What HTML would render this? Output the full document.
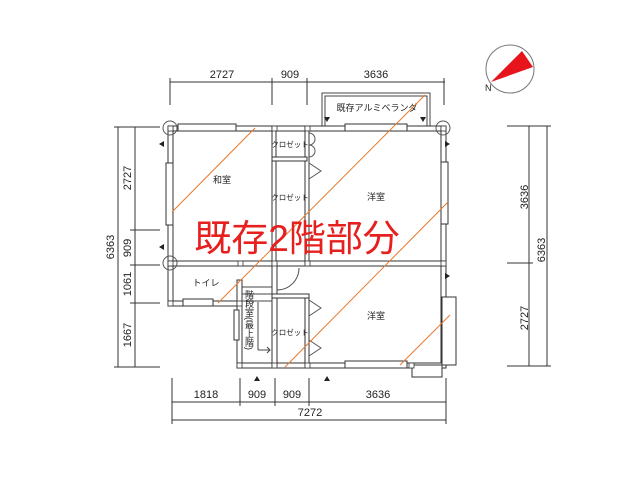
<!DOCTYPE html>
<html><head><meta charset="utf-8"><style>
html,body{margin:0;padding:0;background:#fff;}
svg{display:block;}
text{font-family:"Liberation Sans","Noto Sans CJK JP",sans-serif;fill:#222;}
</style></head><body>
<svg width="640" height="480" viewBox="0 0 640 480" xmlns="http://www.w3.org/2000/svg">
<rect width="640" height="480" fill="#fff"/>
<g stroke="#333" stroke-width="1" fill="none">
 <line x1="170" y1="82" x2="445" y2="82"/>
 <line x1="170" y1="78" x2="170" y2="105"/>
 <line x1="272" y1="78" x2="272" y2="105"/>
 <line x1="307" y1="78" x2="307" y2="105"/>
 <line x1="444" y1="78" x2="444" y2="105"/>
 <line x1="118" y1="127" x2="118" y2="367"/>
 <line x1="135" y1="127" x2="135" y2="367"/>
 <line x1="114" y1="127" x2="160" y2="127"/>
 <line x1="130" y1="230" x2="160" y2="230"/>
 <line x1="130" y1="265" x2="160" y2="265"/>
 <line x1="130" y1="303" x2="160" y2="303"/>
 <line x1="114" y1="367" x2="160" y2="367"/>
 <line x1="172" y1="402" x2="446" y2="402"/>
 <line x1="172" y1="420" x2="446" y2="420"/>
 <line x1="172" y1="378" x2="172" y2="424"/>
 <line x1="240" y1="378" x2="240" y2="406"/>
 <line x1="275" y1="378" x2="275" y2="406"/>
 <line x1="309" y1="378" x2="309" y2="406"/>
 <line x1="446" y1="378" x2="446" y2="424"/>
 <line x1="529" y1="126" x2="529" y2="366"/>
 <line x1="547" y1="126" x2="547" y2="366"/>
 <line x1="507" y1="126" x2="551" y2="126"/>
 <line x1="507" y1="263" x2="533" y2="263"/>
 <line x1="507" y1="366" x2="551" y2="366"/>
</g>
<g font-size="11" text-anchor="middle">
 <text x="222" y="78">2727</text><text x="290" y="78">909</text><text x="376" y="78">3636</text>
 <text x="206" y="398">1818</text><text x="257" y="398">909</text><text x="292" y="398">909</text><text x="378" y="398">3636</text>
 <text x="310" y="416">7272</text>
 <text transform="translate(131,178) rotate(-90)">2727</text>
 <text transform="translate(131,248) rotate(-90)">909</text>
 <text transform="translate(131,284) rotate(-90)">1061</text>
 <text transform="translate(131,335) rotate(-90)">1667</text>
 <text transform="translate(114,247) rotate(-90)">6363</text>
 <text transform="translate(528,197) rotate(-90)">3636</text>
 <text transform="translate(545,250) rotate(-90)">6363</text>
 <text transform="translate(528,318) rotate(-90)">2727</text>
</g>
<rect x="322" y="93" width="108" height="35" fill="none" stroke="#444" stroke-width="1"/>
<rect x="325" y="96" width="102" height="32" fill="none" stroke="#444" stroke-width="1"/>
<text x="377" y="111" font-size="9" text-anchor="middle">既存アルミベランダ</text>
<g fill="#fff" stroke="#333" stroke-width="1">
 <rect x="168" y="126" width="278" height="5"/>
 <rect x="168" y="126" width="5" height="180"/>
 <rect x="441" y="126" width="5" height="241"/>
 <rect x="168" y="261" width="278" height="5"/>
 <rect x="168" y="301" width="72" height="5"/>
 <rect x="237" y="280" width="5" height="87"/>
 <rect x="237" y="363" width="209" height="5"/>
 <rect x="272" y="263" width="5" height="103"/>
 <rect x="272" y="126" width="4" height="138"/>
 <rect x="305" y="126" width="4" height="138"/>
 <rect x="305" y="296" width="4" height="70"/>
 <rect x="272" y="294" width="37" height="4"/>
 <rect x="272" y="157" width="35" height="4"/>
 <rect x="178" y="124" width="58" height="7"/>
 <rect x="345" y="124" width="62" height="7"/>
 <rect x="166" y="163" width="7" height="62"/>
 <rect x="441" y="162" width="7" height="62"/>
 <rect x="183" y="299" width="30" height="7"/>
 <rect x="345" y="361" width="62" height="7"/>
 <rect x="234" y="310" width="5" height="30"/>
 <rect x="442" y="297" width="14" height="68"/>
 <rect x="412" y="365" width="30" height="12"/>
</g>
<g fill="none" stroke="#555" stroke-width="1">
 <circle cx="170" cy="128" r="7"/><circle cx="443" cy="128" r="7"/><circle cx="170" cy="263" r="7"/>
 <path d="M309 133 a6 6 0 0 1 6 6 a6 6 0 0 1 -6 6"/>
 <path d="M309 145 a6 6 0 0 1 6 6 a6 6 0 0 1 -6 6"/>
 <path d="M309 163 l12 8 l-12 8"/>
 <path d="M309 300 l12 8 l-12 8 M309 340 l12 8 l-12 8"/>
 <path d="M277 290 a22 22 0 0 0 22 -22"/>
</g>
<g fill="#fff" stroke="#333" stroke-width="0.8">
 <rect x="168" y="126" width="5" height="5"/><rect x="441" y="126" width="5" height="5"/><rect x="272" y="126" width="5" height="5"/><rect x="305" y="126" width="5" height="5"/>
 <rect x="168" y="261" width="5" height="5"/><rect x="238" y="261" width="5" height="5"/><rect x="272" y="261" width="5" height="5"/><rect x="305" y="261" width="5" height="5"/><rect x="441" y="261" width="5" height="5"/>
 <rect x="237" y="363" width="5" height="5"/><rect x="272" y="363" width="5" height="5"/><rect x="305" y="363" width="5" height="5"/><rect x="409" y="363" width="5" height="5"/>
 <rect x="168" y="301" width="5" height="5"/><rect x="237" y="301" width="5" height="5"/>
</g>
<g stroke="#444" stroke-width="1" fill="none">
 <line x1="242" y1="287" x2="272" y2="287"/><line x1="242" y1="294" x2="272" y2="294"/><line x1="242" y1="301" x2="272" y2="301"/>
 <line x1="258" y1="302" x2="258" y2="350"/><path d="M258 350 h12 m-3 -3 l3 3 l-3 3"/>
</g>
<g fill="#222">
 <path d="M159 144 l5 -3 v6z"/><path d="M159 247 l5 -3 v6z"/>
 <path d="M450 144 l-5 -3 v6z"/><path d="M450 276 l-5 -3 v6z"/>
 <path d="M324 117 l3 5 l3 -5z"/><path d="M420 117 l3 5 l3 -5z"/>
 <path d="M254 381 l3 -5 l3 5z"/><path d="M324 381 l3 -5 l3 5z"/>
</g>
<g font-size="9" text-anchor="middle">
 <text x="222" y="183">和室</text><text x="376" y="200">洋室</text><text x="376" y="319">洋室</text>
 <text x="206" y="286">トイレ</text>
 <text x="290" y="147" font-size="7.5">クロゼット</text><text x="290" y="200" font-size="7.5">クロゼット</text><text x="290" y="335" font-size="7.5">クロゼット</text>
</g>
<text x="249" y="290" font-size="9" style="writing-mode:vertical-rl">階段室(最上階)</text>
<g stroke="#e8782a" stroke-width="1">
 <line x1="172" y1="212" x2="255" y2="128"/>
 <line x1="425" y1="95" x2="218" y2="303"/>
 <line x1="448" y1="202" x2="285" y2="367"/>
 <line x1="450" y1="315" x2="400" y2="365"/>
</g>
<circle cx="510" cy="69" r="24" fill="#fff" stroke="#777" stroke-width="1"/>
<path d="M491 82 L522 51 L533 67 Z" fill="#e8141c"/>
<text x="485" y="91" font-size="9">N</text>
<text x="297" y="251" font-size="37" text-anchor="middle" style="fill:#e5201f">既存2階部分</text>
</svg>
</body></html>
